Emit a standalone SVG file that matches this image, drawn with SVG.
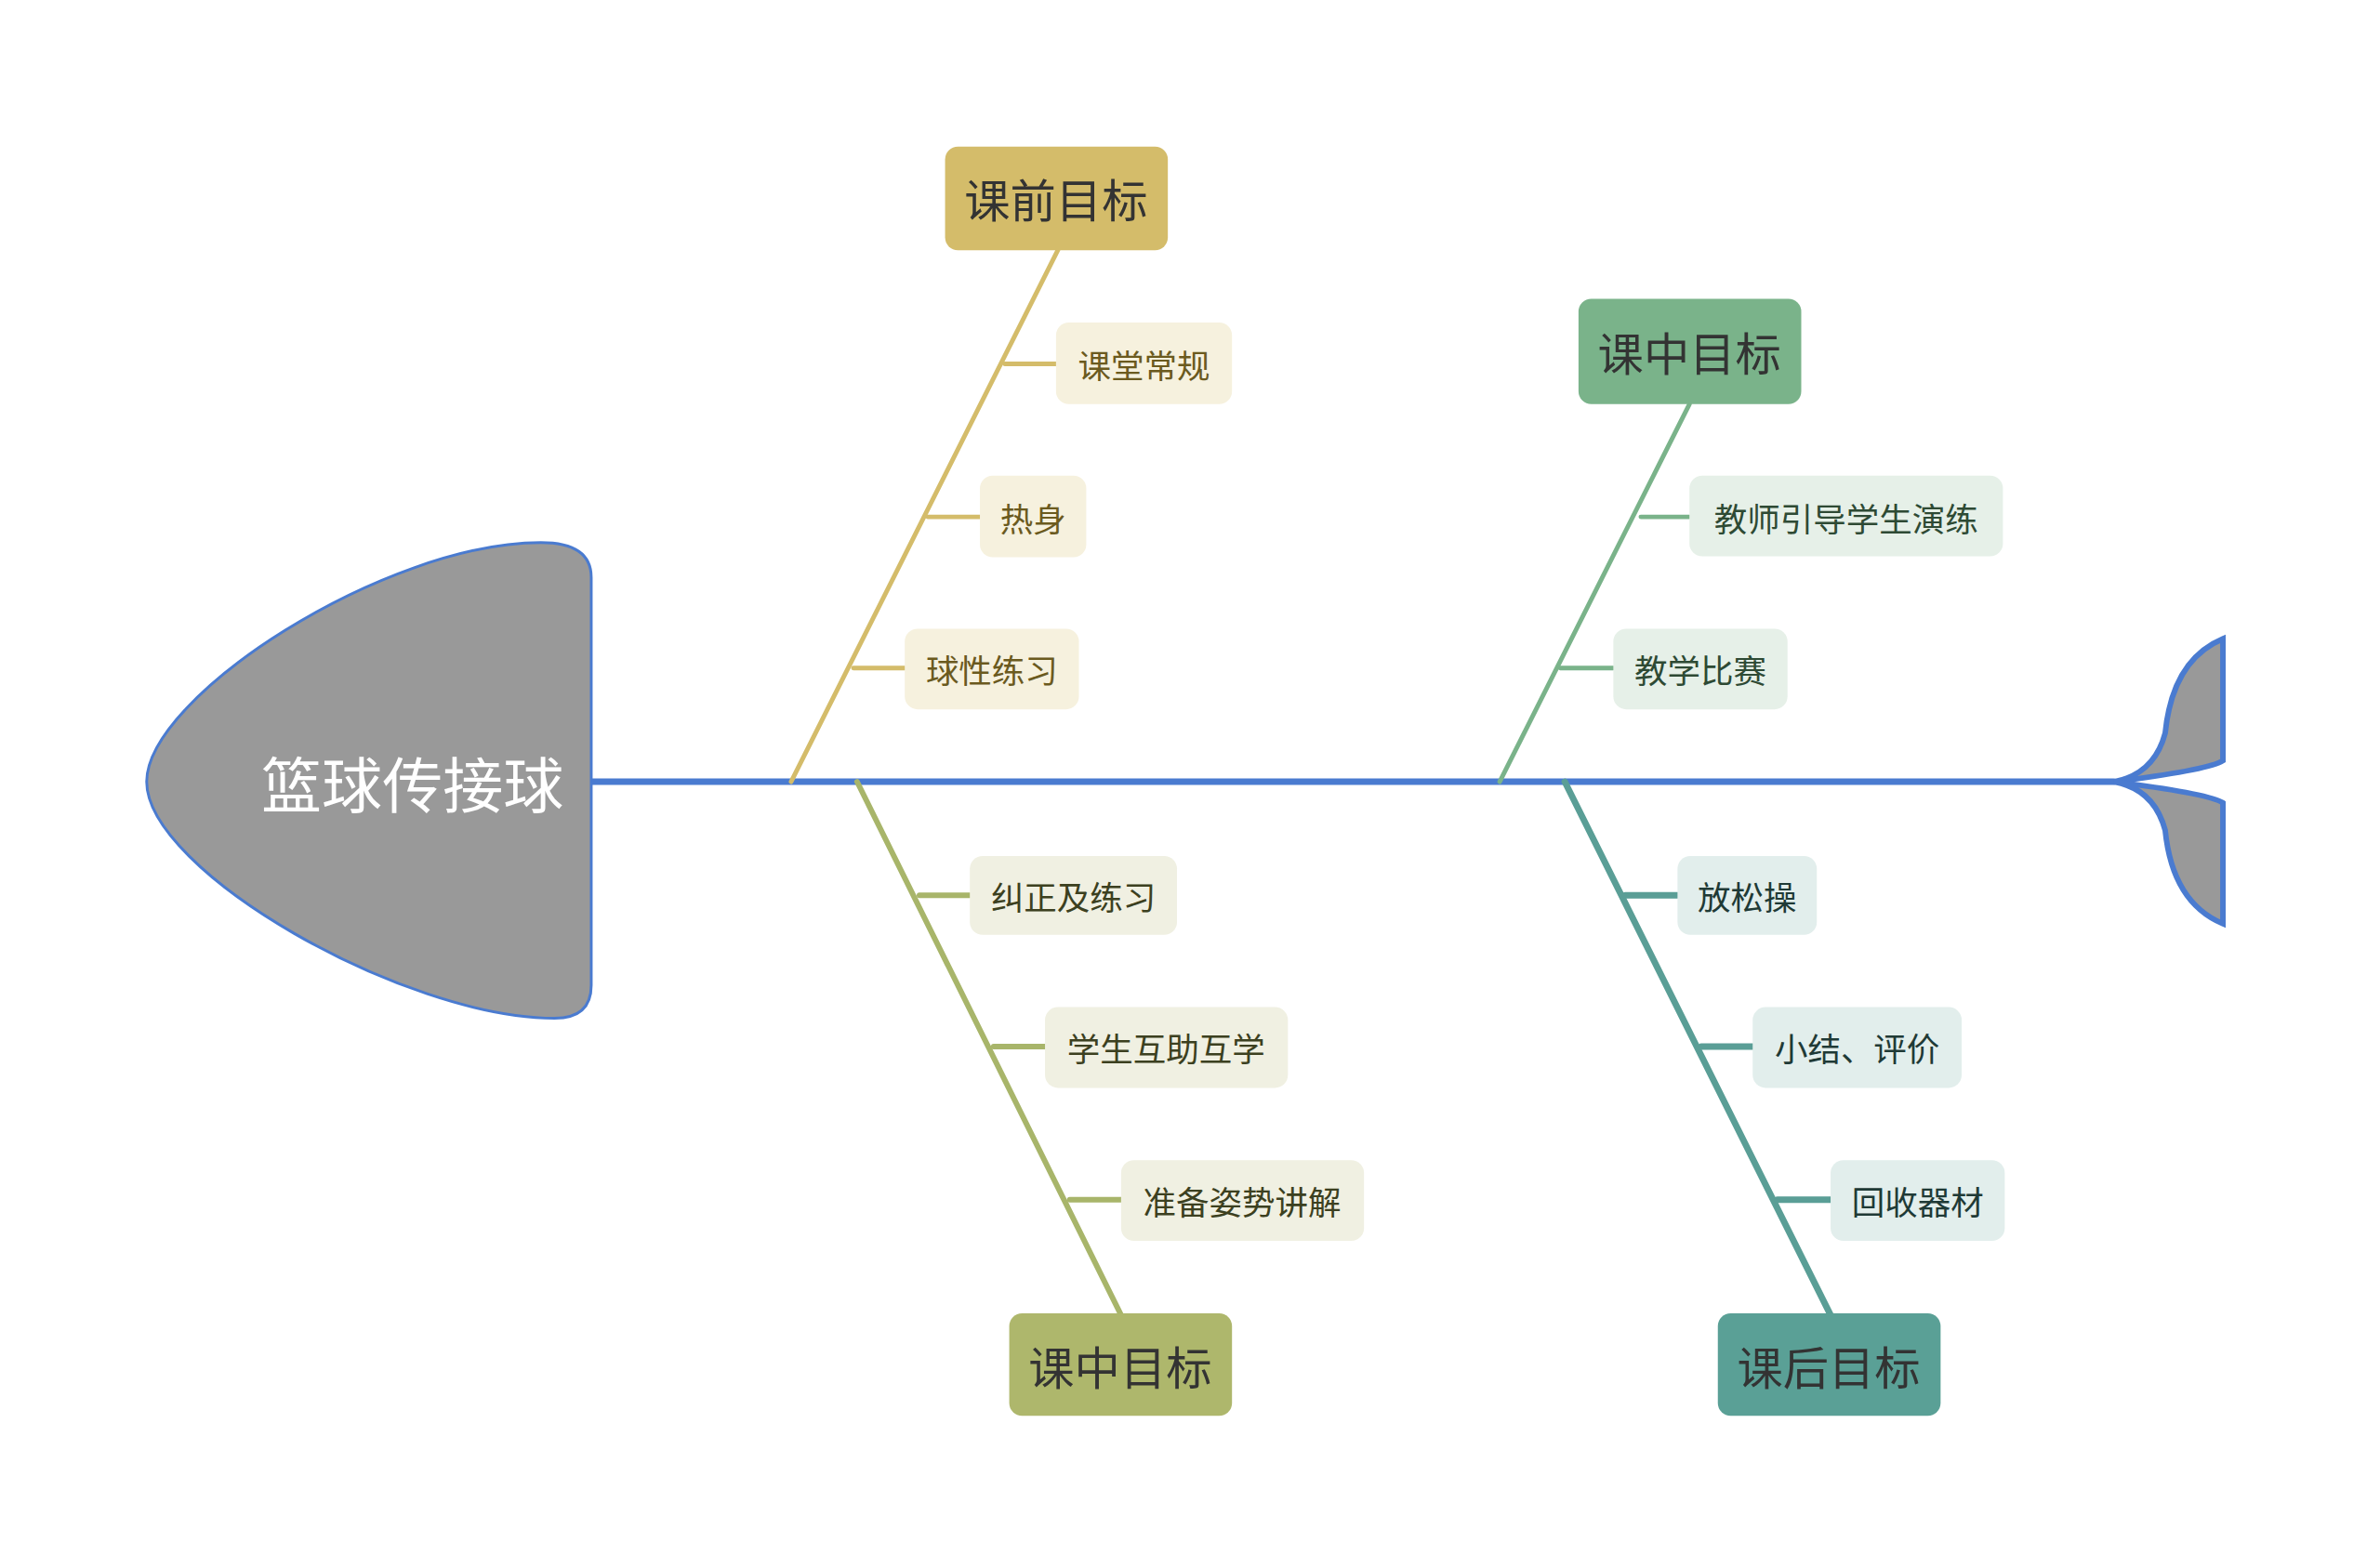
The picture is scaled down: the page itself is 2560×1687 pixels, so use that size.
<svg xmlns="http://www.w3.org/2000/svg" width="2560" height="1687" viewBox="0 0 2560 1687">
<style>
text{font-family:"Noto Sans CJK SC","Noto Sans",sans-serif;text-anchor:middle;dominant-baseline:central}
.t{font-size:50px;fill:#333}
.s{font-size:36px;fill:#3a3a2a}
</style>
<rect width="2560" height="1687" fill="#fff"/>
<g transform="scale(0.986)">
<g id="connectors" fill="none" stroke-linecap="round">
<line x1="645" y1="853" x2="2306" y2="853" stroke="#4a7bd0" stroke-width="7"/>
<g stroke="#d4bc6a" stroke-width="5">
<line x1="863" y1="853" x2="1154" y2="273"/>
<line x1="1096" y1="397" x2="1152" y2="397"/>
<line x1="1012" y1="564" x2="1069" y2="564"/>
<line x1="931" y1="729" x2="987" y2="729"/>
</g>
<g stroke="#7ab38a" stroke-width="5">
<line x1="1636" y1="853" x2="1843" y2="441"/>
<line x1="1790" y1="564" x2="1843" y2="564"/>
<line x1="1702" y1="729" x2="1760" y2="729"/>
</g>
<g stroke="#a8b56a" stroke-width="6">
<line x1="935" y1="853" x2="1223" y2="1435"/>
<line x1="1003" y1="977" x2="1058" y2="977"/>
<line x1="1084" y1="1142" x2="1140" y2="1142"/>
<line x1="1167" y1="1309" x2="1223" y2="1309"/>
</g>
<g stroke="#5a9e96" stroke-width="7">
<line x1="1707" y1="853" x2="1997" y2="1435"/>
<line x1="1773" y1="977" x2="1830" y2="977"/>
<line x1="1856" y1="1142" x2="1912" y2="1142"/>
<line x1="1939" y1="1309" x2="1997" y2="1309"/>
</g>
</g>
<g id="head">
<path d="M160 853 C160 760 420 592 590 592 Q645 592 645 630 L645 1075 Q645 1111 605 1111 C440 1111 160 950 160 853 Z" fill="#999" stroke="#4a7bd0" stroke-width="3"/>
<text x="450" y="853" style="font-size:66px;fill:#fff">篮球传接球</text>
</g>
<g id="tail" fill="#999" stroke="#4a7bd0" stroke-width="6">
<path d="M2306 853 Q2350 845 2362 800 Q2370 720 2425 697 L2425 830 Q2410 840 2306 853 Z"/>
<path d="M2306 853 Q2350 861 2362 906 Q2370 985 2425 1008 L2425 876 Q2410 866 2306 853 Z"/>
</g>
<g id="n1"><rect x="1031" y="160" width="243" height="113" rx="14" fill="#d4bc6a"/><text class="t" x="1152" y="216">课前目标</text></g>
<g id="n1a"><rect x="1152" y="352" width="192" height="89" rx="14" fill="#f6f1de"/><text class="s" x="1248" y="397" style="fill:#6b5a1e">课堂常规</text></g>
<g id="n1b"><rect x="1069" y="519" width="116" height="89" rx="14" fill="#f6f1de"/><text class="s" x="1127" y="564" style="fill:#6b5a1e">热身</text></g>
<g id="n1c"><rect x="987" y="686" width="190" height="88" rx="14" fill="#f6f1de"/><text class="s" x="1082" y="730" style="fill:#6b5a1e">球性练习</text></g>
<g id="n2"><rect x="1722" y="326" width="243" height="115" rx="14" fill="#7ab38a"/><text class="t" x="1843" y="383">课中目标</text></g>
<g id="n2a"><rect x="1843" y="519" width="342" height="88" rx="14" fill="#e6f0e8"/><text class="s" x="2014" y="564" style="fill:#2e4a34">教师引导学生演练</text></g>
<g id="n2b"><rect x="1760" y="686" width="190" height="88" rx="14" fill="#e6f0e8"/><text class="s" x="1855" y="730" style="fill:#2e4a34">教学比赛</text></g>
<g id="n3"><rect x="1101" y="1433" width="243" height="112" rx="14" fill="#aeb76c"/><text class="t" x="1222" y="1489">课中目标</text></g>
<g id="n3a"><rect x="1058" y="934" width="226" height="86" rx="14" fill="#f0f0e2"/><text class="s" x="1171" y="977" style="fill:#3c4020">纠正及练习</text></g>
<g id="n3b"><rect x="1140" y="1099" width="265" height="88" rx="14" fill="#f0f0e2"/><text class="s" x="1272" y="1143" style="fill:#3c4020">学生互助互学</text></g>
<g id="n3c"><rect x="1223" y="1266" width="265" height="88" rx="14" fill="#f0f0e2"/><text class="s" x="1355" y="1310" style="fill:#3c4020">准备姿势讲解</text></g>
<g id="n4"><rect x="1874" y="1433" width="243" height="112" rx="14" fill="#5aa096"/><text class="t" x="1995" y="1489">课后目标</text></g>
<g id="n4a"><rect x="1830" y="934" width="152" height="86" rx="14" fill="#e2eeec"/><text class="s" x="1906" y="977" style="fill:#1f3a36">放松操</text></g>
<g id="n4b"><rect x="1912" y="1099" width="228" height="88" rx="14" fill="#e2eeec"/><text class="s" x="2026" y="1143" style="fill:#1f3a36">小结、评价</text></g>
<g id="n4c"><rect x="1997" y="1266" width="190" height="88" rx="14" fill="#e2eeec"/><text class="s" x="2092" y="1310" style="fill:#1f3a36">回收器材</text></g>
</g>
</svg>
